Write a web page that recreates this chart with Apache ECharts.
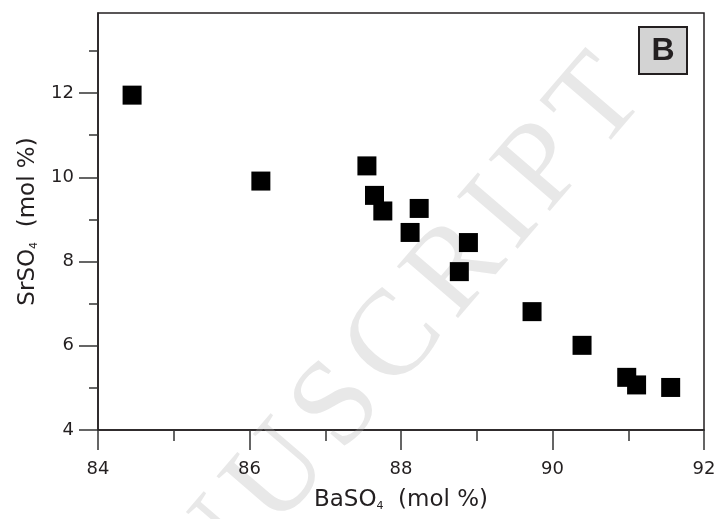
<!DOCTYPE html>
<html>
<head>
<meta charset="utf-8">
<script src="https://cdn.jsdelivr.net/npm/echarts@6/dist/echarts.min.js"></script>
<style>
  html, body { margin: 0; padding: 0; background: #fff; }
  #chart { width: 724px; height: 519px; }
</style>
</head>
<body>
<div id="chart"></div>
<script>
// BaSO4 / SrSO4 (mol %)
var baso4 = [84.45, 86.15, 87.55, 87.65, 87.76, 88.12, 88.24, 88.77, 88.89, 89.73, 90.39, 90.98, 91.11, 91.56];
var srso4 = [11.95, 9.91, 10.27, 9.57, 9.20, 8.69, 9.26, 7.76, 8.45, 6.81, 6.01, 5.25, 5.07, 5.01];

var yMajor = [4, 6, 8, 10, 12];
var yMinor = [5, 7, 9, 11, 13];

var ink = '#231f20';
var font = 'DejaVu Sans, Liberation Sans, sans-serif';

// faint "MANUSCRIPT" watermark behind the plot, laid out letter by letter
var wmLetters = ['M', 'A', 'N', 'U', 'S', 'C', 'R', 'I', 'P', 'T'];
var wmWidths = [0.889, 0.722, 0.722, 0.722, 0.556, 0.667, 0.667, 0.333, 0.556, 0.611];
var wmEm = 142;   // spacing per em
var wmChildren = [];
var acc = 0;
var uCenter = 0;
wmLetters.forEach(function (ch, i) {
  var c = acc + wmWidths[i] / 2;
  if (ch === 'U') uCenter = c;
  wmChildren.push({ ch: ch, c: c });
  acc += wmWidths[i];
});
wmChildren = wmChildren.map(function (d) {
  return {
    type: 'text',
    x: (d.c - uCenter) * wmEm,
    y: 0,
    style: {
      text: d.ch,
      fontSize: 122,
      fontFamily: 'Liberation Serif, DejaVu Serif, serif',
      fill: '#e8e8e8',
      textAlign: 'center',
      textVerticalAlign: 'middle'
    }
  };
});

var chart = echarts.init(document.getElementById('chart'));

var points = baso4.map(function (x, i) { return [x, srso4[i]]; });

var option = {
  backgroundColor: '#fff',
  animation: false,
  grid: {
    left: 98, right: 20, top: 13, bottom: 89,
    show: true,
    borderColor: ink,
    borderWidth: 1.5,
    containLabel: false
  },
  xAxis: {
    type: 'value',
    min: 84,
    max: 92,
    interval: 2,
    name: 'BaSO{s|4}  (mol %)',
    nameLocation: 'middle',
    nameGap: 59,
    nameTextStyle: {
      color: ink, fontSize: 23, fontFamily: font,
      rich: { s: { fontSize: 11, verticalAlign: 'bottom', color: ink, fontFamily: font } }
    },
    axisLine: { lineStyle: { color: ink, width: 1.5 } },
    axisTick: { length: 20, lineStyle: { color: '#333', width: 1.5 } },
    minorTick: { show: true, splitNumber: 2, length: 11, lineStyle: { color: '#333', width: 1.5 } },
    axisLabel: { color: ink, fontSize: 18, fontFamily: font, margin: 30 },
    splitLine: { show: false }
  },
  yAxis: [
    {
      type: 'value',
      min: 4,
      max: 13.9,
      position: 'left',
      name: 'SrSO{s|4}  (mol %)',
      nameLocation: 'middle',
      nameGap: 58,
      nameTextStyle: {
        color: ink, fontSize: 23, fontFamily: font,
        rich: { s: { fontSize: 11, verticalAlign: 'bottom', color: ink, fontFamily: font } }
      },
      axisLine: { lineStyle: { color: ink, width: 1.5 } },
      axisTick: { length: 19, customValues: yMajor, lineStyle: { color: '#333', width: 1.5 } },
      axisLabel: { color: ink, fontSize: 18, fontFamily: font, margin: 24, customValues: yMajor },
      splitLine: { show: false }
    },
    {
      // minor ticks only
      type: 'value',
      min: 4,
      max: 13.9,
      position: 'left',
      offset: 0,
      axisLine: { show: false },
      axisTick: { length: 9, customValues: yMinor, lineStyle: { color: '#333', width: 1.5 } },
      axisLabel: { show: false },
      splitLine: { show: false }
    }
  ],
  graphic: [
    {
      type: 'group',
      z: -10,
      silent: true,
      x: 280,
      y: 476,
      rotation: 0.861,
      children: wmChildren
    },
    {
      type: 'group',
      x: 639,
      y: 27,
      z: 100,
      children: [
        {
          type: 'rect',
          shape: { x: 0, y: 0, width: 48, height: 47 },
          style: { fill: '#d3d3d3', stroke: ink, lineWidth: 2 }
        },
        {
          type: 'text',
          x: 24,
          y: 24,
          style: {
            text: 'B',
            fontSize: 32,
            fontWeight: 'bold',
            fontFamily: 'Liberation Sans, Arial, sans-serif',
            fill: ink,
            textAlign: 'center',
            textVerticalAlign: 'middle'
          }
        }
      ]
    }
  ],
  series: [
    {
      type: 'scatter',
      data: points,
      symbol: 'rect',
      symbolSize: 19,
      itemStyle: { color: '#000', opacity: 1 }
    }
  ]
};

chart.setOption(option);
</script>
</body>
</html>
